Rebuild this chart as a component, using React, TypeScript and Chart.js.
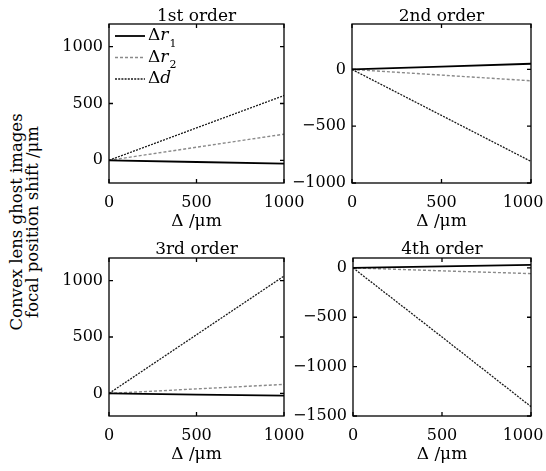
import React, { useEffect, useRef } from "react";
import { Chart, registerables } from "chart.js";

Chart.register(...registerables);

// ---------- data ----------
const deltaUm = [0, 500, 1000];
const seriesLabels = ["Δr₁", "Δr₂", "Δd"];
const panelTitles = ["1st order", "2nd order", "3rd order", "4th order"];
const xTickValues = [0, 500, 1000];

const order1R1 = [0, -15, -30];
const order1R2 = [0, 115, 230];
const order1D = [0, 285, 570];

const order2R1 = [0, 25, 50];
const order2R2 = [0, -50, -100];
const order2D = [0, -405, -810];

const order3R1 = [0, -10, -20];
const order3R2 = [0, 40, 80];
const order3D = [0, 520, 1040];

const order4R1 = [0, 15, 30];
const order4R2 = [0, -30, -58];
const order4D = [0, -700, -1405];

const yTicks1 = [0, 500, 1000];
const yTicks2 = [-1000, -500, 0];
const yTicks3 = [0, 500, 1000];
const yTicks4 = [-1500, -1000, -500, 0];

const yRange1 = [-200, 1200];
const yRange2 = [-1000, 400];
const yRange3 = [-200, 1200];
const yRange4 = [-1500, 100];

const xAxisTitle = "Δ /μm";
const yAxisTitleLines = ["Convex lens ghost images", "focal position shift /μm"];

// ---------- layout / styles ----------
const FONT = "'DejaVu Serif', serif";
const panelRects = [
  { left: 109, top: 24, right: 284, bottom: 183, edge: false, titleShift: 2 },
  { left: 352, top: 24, right: 531, bottom: 183, edge: true, titleShift: 2 },
  { left: 109, top: 258, right: 284, bottom: 416, edge: false, titleShift: 1 },
  { left: 353, top: 258, right: 531, bottom: 416, edge: true, titleShift: 1 },
];
const seriesStyles = [
  { color: "#000000", width: 1.8, dash: [] as number[] },
  { color: "#8a8a8a", width: 1.4, dash: [3, 2] },
  { color: "#1a1a1a", width: 1.3, dash: [2, 1.2] },
];
const Y_AXIS_W = 70;
const TITLE_AREA = 30;
const X_AXIS_H = 54;
const RIGHT_PAD = 30;

const panels = [
  { title: panelTitles[0], series: [order1R1, order1R2, order1D], yRange: yRange1, yTicks: yTicks1, legend: true },
  { title: panelTitles[1], series: [order2R1, order2R2, order2D], yRange: yRange2, yTicks: yTicks2, legend: false },
  { title: panelTitles[2], series: [order3R1, order3R2, order3D], yRange: yRange3, yTicks: yTicks3, legend: false },
  { title: panelTitles[3], series: [order4R1, order4R2, order4D], yRange: yRange4, yTicks: yTicks4, legend: false },
];

const fmt = (v: number) => (v < 0 ? "\u2212" + Math.abs(v) : String(v));

const framePlugin = {
  id: "frameTicks",
  afterDatasetsDraw(chart: any) {
    const { ctx, chartArea: a, scales } = chart;
    ctx.save();
    ctx.strokeStyle = "#000";
    ctx.lineWidth = 1.3;
    ctx.setLineDash([]);
    ctx.strokeRect(a.left, a.top, a.right - a.left, a.bottom - a.top);
    const L = 4;
    ctx.beginPath();
    scales.x.ticks.forEach((t: any) => {
      const px = scales.x.getPixelForValue(t.value);
      ctx.moveTo(px, a.bottom);
      ctx.lineTo(px, a.bottom - L);
      ctx.moveTo(px, a.top);
      ctx.lineTo(px, a.top + L);
    });
    scales.y.ticks.forEach((t: any) => {
      const py = scales.y.getPixelForValue(t.value);
      ctx.moveTo(a.left, py);
      ctx.lineTo(a.left + L, py);
      ctx.moveTo(a.right, py);
      ctx.lineTo(a.right - L, py);
    });
    ctx.stroke();
    ctx.restore();
  },
};

const subDigits: Record<string, string> = { "₀": "0", "₁": "1", "₂": "2", "₃": "3" };

const innerLegendPlugin = {
  id: "innerLegend",
  afterDraw(chart: any, _args: any, opts: any) {
    if (!opts || !opts.display) return;
    const { ctx, chartArea: a } = chart;
    ctx.save();
    chart.data.datasets.forEach((ds: any, i: number) => {
      const y = a.top + 12 + i * 21.5;
      const x0 = a.left + 6;
      const x1 = a.left + 36;
      ctx.strokeStyle = ds.borderColor;
      ctx.lineWidth = ds.borderWidth;
      ctx.setLineDash(ds.borderDash || []);
      ctx.beginPath();
      ctx.moveTo(x0, y);
      ctx.lineTo(x1, y);
      ctx.stroke();
      ctx.setLineDash([]);
      ctx.fillStyle = "#000";
      ctx.textBaseline = "middle";
      ctx.textAlign = "left";
      let x = a.left + 39;
      for (const ch of String(ds.label)) {
        if (subDigits[ch]) {
          ctx.font = `11px ${FONT}`;
          ctx.fillText(subDigits[ch], x + 1, y + 8);
          x += ctx.measureText(subDigits[ch]).width + 1;
        } else if (ch === "Δ") {
          ctx.font = `17px ${FONT}`;
          ctx.fillText(ch, x, y);
          x += ctx.measureText(ch).width;
        } else {
          ctx.font = `italic 17px ${FONT}`;
          ctx.fillText(ch, x, y);
          x += ctx.measureText(ch).width;
        }
      }
    });
    ctx.restore();
  },
};

function Panel({ p, rect }: { p: any; rect: any }) {
  const ref = useRef<HTMLCanvasElement>(null);
  const w = rect.right - rect.left + Y_AXIS_W + RIGHT_PAD + 2;
  const h = rect.bottom - rect.top + TITLE_AREA + X_AXIS_H + 2;
  useEffect(() => {
    if (!ref.current) return;
    const lastX = xTickValues[xTickValues.length - 1];
    const chart = new Chart(ref.current, {
      type: "line",
      data: {
        datasets: p.series.map((vals: number[], i: number) => ({
          label: seriesLabels[i],
          data: deltaUm.map((x, j) => ({ x, y: vals[j] })),
          borderColor: seriesStyles[i].color,
          borderWidth: seriesStyles[i].width,
          borderDash: seriesStyles[i].dash,
          pointRadius: 0,
          tension: 0,
          fill: false,
        })),
      },
      options: {
        responsive: false,
        animation: false,
        events: [],
        layout: { autoPadding: false, padding: { left: 2, top: 12, right: RIGHT_PAD, bottom: 2 } },
        plugins: {
          legend: { display: false },
          tooltip: { enabled: false },
          title: {
            display: true,
            fullSize: false,
            text: p.title,
            color: "#000",
            font: { family: FONT, size: 17, weight: "normal", lineHeight: 1 },
            padding: { top: rect.titleShift, bottom: 1 - rect.titleShift },
          },
          innerLegend: { display: p.legend },
        } as any,
        scales: {
          x: {
            type: "linear",
            min: 0,
            max: 1000,
            grid: { display: false, drawTicks: false },
            border: { display: false },
            ticks: {
              color: "#000",
              font: { family: FONT, size: 16 },
              padding: 10,
              maxRotation: 0,
              callback: (v: any) => {
                const s = fmt(Number(v));
                return rect.edge && Number(v) === lastX ? s + "\u2002\u2002" : s;
              },
            },
            title: { display: true, text: xAxisTitle, color: "#000", font: { family: FONT, size: 17, lineHeight: 1.2 }, padding: { top: 0, bottom: 5 } },
            afterBuildTicks: (s: any) => {
              s.ticks = xTickValues.map((v) => ({ value: v }));
            },
            afterFit: (s: any) => {
              s.height = X_AXIS_H;
              s.paddingLeft = 0;
              s.paddingRight = 0;
              s.paddingTop = 0;
              s.paddingBottom = 0;
            },
          },
          y: {
            type: "linear",
            min: p.yRange[0],
            max: p.yRange[1],
            grid: { display: false, drawTicks: false },
            border: { display: false },
            ticks: { color: "#000", font: { family: FONT, size: 16 }, padding: 6, callback: (v: any) => fmt(Number(v)) },
            afterBuildTicks: (s: any) => {
              s.ticks = p.yTicks.map((v: number) => ({ value: v }));
            },
            afterFit: (s: any) => {
              s.width = Y_AXIS_W;
              s.paddingLeft = 0;
              s.paddingRight = 0;
              s.paddingTop = 0;
              s.paddingBottom = 0;
            },
          },
        },
      } as any,
      plugins: [framePlugin, innerLegendPlugin],
    });
    return () => chart.destroy();
  }, []);
  return (
    <canvas
      ref={ref}
      width={w}
      height={h}
      style={{
        position: "absolute",
        left: rect.left - Y_AXIS_W - 2,
        top: rect.top - TITLE_AREA,
        width: w,
        height: h,
      }}
    />
  );
}

export default function App() {
  return (
    <div
      style={{
        position: "fixed",
        left: 0,
        top: 0,
        width: 546,
        height: 471,
        background: "#fff",
        overflow: "hidden",
      }}
    >
      <div
        style={{
          position: "absolute",
          left: 25,
          top: 222,
          transform: "translate(-50%, -50%) rotate(-90deg)",
          whiteSpace: "nowrap",
          textAlign: "center",
          fontFamily: FONT,
          fontSize: "16.5px",
          lineHeight: "16px",
          color: "#000",
        }}
      >
        {yAxisTitleLines[0]}
        <br />
        {yAxisTitleLines[1]}
      </div>
      {panels.map((p, i) => (
        <Panel key={i} p={p} rect={panelRects[i]} />
      ))}
    </div>
  );
}
